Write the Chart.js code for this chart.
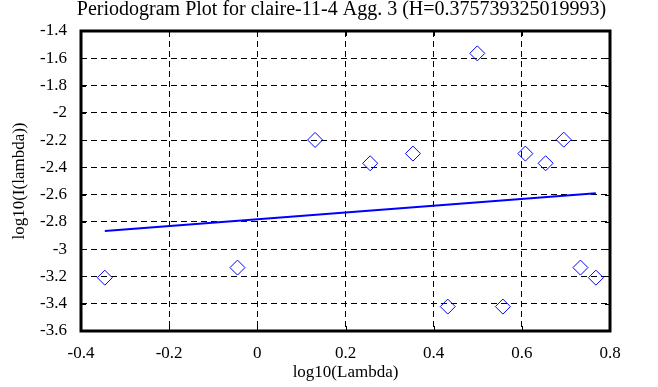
<!DOCTYPE html>
<html>
<head>
<meta charset="utf-8">
<script src="https://cdn.jsdelivr.net/npm/chart.js@4/dist/chart.umd.min.js"></script>
<style>
html,body{margin:0;padding:0;background:#fff;}
#wrap{width:658px;height:387px;}
</style>
</head>
<body>
<div id="wrap"><canvas id="c" width="658" height="387"></canvas></div>
<script>
const chartTitle = "Periodogram Plot for claire-11-4 Agg. 3 (H=0.375739325019993)";
const xTitle = "log10(Lambda)";
const yTitle = "log10(I(lambda))";
const logLambda = [-0.346, -0.045, 0.131, 0.256, 0.353, 0.432, 0.499, 0.557, 0.608, 0.654, 0.695, 0.733, 0.768];
const logI = [-3.209, -3.135, -2.199, -2.370, -2.299, -3.421, -1.564, -3.421, -2.299, -2.370, -2.197, -3.135, -3.209];
const fitX = [-0.346, 0.768];
const fitY = [-2.866, -2.589];
const xRange = [-0.4, 0.8, 0.2];
const yRange = [-3.6, -1.4, 0.2];

const FONT = "'Liberation Serif', 'Times New Roman', serif";
const fmt = v => String(+(+v).toFixed(1));

const frame = {
  id: 'frame',
  afterLayout(chart) {
    const tb = chart.titleBlock, a = chart.chartArea;
    if (tb && a) {
      const shift = (a.left + a.right) / 2 - 4 - (tb.left + tb.right) / 2;
      tb.left += shift; tb.right += shift;
    }
  },
  afterDraw(chart) {
    const {ctx, chartArea: a, scales} = chart;
    ctx.save();
    ctx.strokeStyle = '#000';
    ctx.lineWidth = 1;
    ctx.setLineDash([]);
    const L = 5;
    ctx.beginPath();
    scales.x.ticks.forEach(t => {
      const px = Math.round(scales.x.getPixelForValue(t.value)) + 0.5;
      ctx.moveTo(px, a.top); ctx.lineTo(px, a.top + L);
      ctx.moveTo(px, a.bottom); ctx.lineTo(px, a.bottom - L);
    });
    scales.y.ticks.forEach(t => {
      const py = Math.round(scales.y.getPixelForValue(t.value)) + 0.5;
      ctx.moveTo(a.left, py); ctx.lineTo(a.left + L, py);
      ctx.moveTo(a.right, py); ctx.lineTo(a.right - L, py);
    });
    ctx.stroke();
    ctx.lineWidth = 3;
    ctx.strokeRect(a.left, a.top, a.right - a.left, a.bottom - a.top);
    ctx.restore();
  }
};

new Chart(document.getElementById('c'), {
  data: {
    datasets: [
      {
        type: 'scatter',
        data: logLambda.map((x, i) => ({x, y: logI[i]})),
        pointStyle: 'rectRot',
        pointRadius: 7.5,
        pointHoverRadius: 7.5,
        borderColor: '#0000ff',
        backgroundColor: 'rgba(0,0,0,0)',
        borderWidth: 1
      },
      {
        type: 'line',
        data: fitX.map((x, i) => ({x, y: fitY[i]})),
        borderColor: '#0000ff',
        borderWidth: 2,
        pointRadius: 0,
        fill: false
      }
    ]
  },
  options: {
    responsive: false,
    animation: false,
    events: [],
    layout: {padding: {left: 0, right: 48, top: 0, bottom: 0}},
    plugins: {
      legend: {display: false},
      tooltip: {enabled: false},
      title: {
        display: true,
        text: chartTitle,
        color: '#000',
        font: {family: FONT, size: 20, weight: 'normal', lineHeight: 1.0},
        padding: {top: 0, bottom: 11}
      }
    },
    scales: {
      x: {
        type: 'linear',
        min: xRange[0], max: xRange[1],
        afterFit(s) { s.height = 56; },
        ticks: {stepSize: xRange[2], callback: fmt, color: '#000', padding: 12,
          font: {family: FONT, size: 17}, maxRotation: 0},
        grid: {color: '#000', lineWidth: 1, drawTicks: false},
        border: {display: false, dash: [6, 4]},
        title: {display: true, text: xTitle, color: '#000', font: {family: FONT, size: 17},
          padding: {top: 0, bottom: 4}}
      },
      y: {
        type: 'linear',
        min: yRange[0], max: yRange[1],
        afterFit(s) { s.width = 81; },
        ticks: {stepSize: yRange[2], callback: fmt, color: '#000', padding: 14,
          font: {family: FONT, size: 17}},
        grid: {color: '#000', lineWidth: 1, drawTicks: false},
        border: {display: false, dash: [6, 4]},
        title: {display: true, text: yTitle, color: '#000', font: {family: FONT, size: 17},
          padding: {top: 9, bottom: 0}}
      }
    }
  },
  plugins: [frame]
});
</script>
</body>
</html>
